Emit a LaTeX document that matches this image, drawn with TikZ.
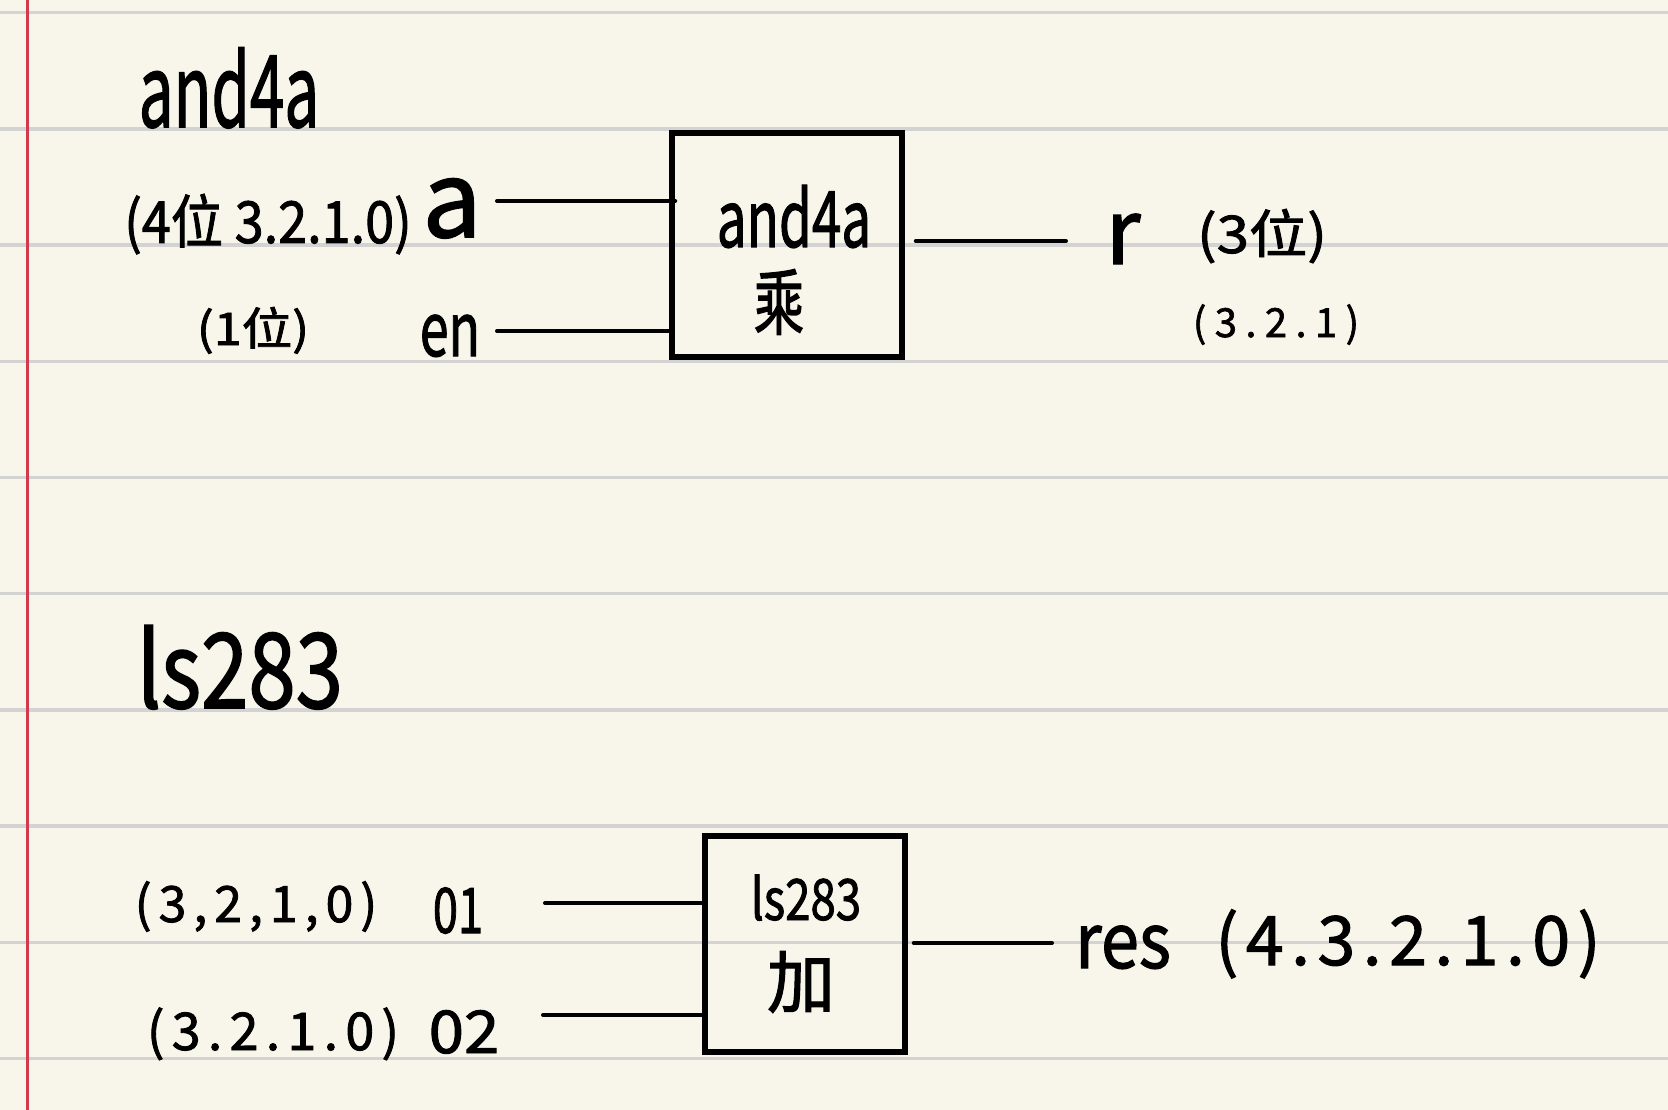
\documentclass[tikz,border=0pt]{standalone}
\usepackage{fontspec}
\setmainfont{Noto Sans CJK SC}[FakeBold=1.6]
\newcommand\hwsize[1]{\fontsize{#1}{#1}\selectfont}
\definecolor{paper}{HTML}{F8F6EA}
\definecolor{rulegray}{HTML}{D3D3D3}
\definecolor{marginred}{HTML}{D03A4C}
\begin{document}
\begin{tikzpicture}[x=1pt,y=-1pt,
  txt/.style={anchor=base,inner sep=0pt,text=black},
  cjk/.style={inner sep=0pt,text=black},
  box/.style={draw=black,line width=5.5pt,inner sep=0pt},
  wire/.style={draw=black,line width=4pt,line cap=round}]
\fill[paper] (0,0) rectangle (1668,1110);
\useasboundingbox (0,0) rectangle (1668,1110);
\foreach \k in {0,...,9} \draw[rulegray,line width=3.3pt] (0,12.7+116.2*\k) -- (1668,12.7+116.2*\k);
\draw[marginred,line width=3.5pt] (27.5,0) -- (27.5,1110);

% ---------- and4a ----------
\node[txt,font=\hwsize{100},xscale=.62] (t1) at (229,127) {and4a};
\node[box,minimum width=230pt,minimum height=224pt] (b1) at (787,245) {};
\node[txt,font=\hwsize{78},xscale=.68] (b1t) at (794,247) {and4a};
\node[cjk,font=\hwsize{72},xscale=.7] (b1c) at (779,302) {乘};

\node[txt,font=\hwsize{58},xscale=.9] (la) at (268,243) {(4位 3.2.1.0)};
\node[txt,font=\hwsize{105}] (pa) at (452,237) {a};
\node[txt,font=\hwsize{45},xscale=1.12] (len) at (253,345) {(1位)};
\node[txt,font=\hwsize{74},xscale=.7] (pen) at (450,356) {en};

\coordinate (ina) at (497,201);
\coordinate (inen) at (497,331);
\coordinate (outr) at (1066,241);
\draw[wire] (ina) -- ([xshift=6pt]b1.west |- ina);
\draw[wire] (inen) -- (b1.west |- inen);
\draw[wire] ([xshift=11pt]b1.east |- outr) -- (outr);

\node[txt,font=\hwsize{90}] (pr) at (1123,264) {r};
\node[txt,font=\hwsize{52},xscale=1.12] (lr1) at (1262,253) {(3位)};
\node[txt,font=\hwsize{40}\addfontfeatures{LetterSpace=21}] (lr2) at (1276,337) {(3.2.1)};

% ---------- ls283 ----------
\node[txt,font=\hwsize{104},xscale=.82] (t2) at (240,708) {ls283};
\node[box,minimum width=200pt,minimum height=216pt] (b2) at (805,944) {};
\node[txt,font=\hwsize{57},xscale=.8] (b2t) at (806,920) {ls283};
\node[cjk,font=\hwsize{68}] (b2c) at (801,982) {加};

\node[txt,font=\hwsize{50}\addfontfeatures{LetterSpace=14}] (lo1) at (256,922) {(3,2,1,0)};
\node[txt,font=\hwsize{63},xscale=.72] (po1) at (458,933) {01};
\node[txt,font=\hwsize{52}\addfontfeatures{LetterSpace=14}] (lo2) at (273,1050) {(3.2.1.0)};
\node[txt,font=\hwsize{59},xscale=1.08] (po2) at (464,1053) {02};

\coordinate (ino1) at (545,903);
\coordinate (ino2) at (543,1015);
\coordinate (outres) at (1052,943);
\draw[wire] (ino1) -- (b2.west |- ino1);
\draw[wire] (ino2) -- (b2.west |- ino2);
\draw[wire] ([xshift=6pt]b2.east |- outres) -- (outres);

\node[txt,font=\hwsize{76},xscale=.9] (pres) at (1123,968) {res};
\node[txt,font=\hwsize{68}\addfontfeatures{LetterSpace=11}] (lres) at (1408,965) {(4.3.2.1.0)};
\end{tikzpicture}
\end{document}
